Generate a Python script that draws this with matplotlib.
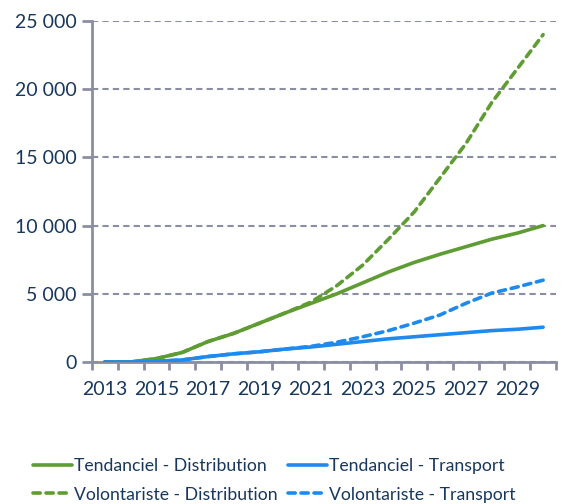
import numpy as np
import matplotlib.pyplot as plt
from matplotlib.ticker import FuncFormatter

years = list(range(2013, 2031))
tend_dist = [0, 0, 250, 700, 1500, 2100, 2850, 3600, 4300, 5000, 5800, 6600, 7300, 7900, 8450, 9000, 9450, 10000]
vol_dist = [0, 0, 250, 700, 1500, 2100, 2850, 3600, 4400, 5600, 7100, 9000, 11000, 13500, 16000, 19000, 21500, 24000]
tend_trans = [0, 0, 50, 150, 400, 600, 750, 950, 1100, 1300, 1500, 1700, 1850, 2000, 2150, 2300, 2400, 2550]
vol_trans = [0, 0, 50, 150, 400, 600, 750, 950, 1150, 1450, 1850, 2300, 2850, 3450, 4300, 5050, 5500, 6000]

green = '#5f9c33'
blue = '#1f8aee'
text_col = '#17375e'
grid_col = '#8b8ea3'

plt.rcParams['font.family'] = ['Lato', 'DejaVu Sans']

fig = plt.figure(figsize=(5.71, 5.04), dpi=100)
ax = fig.add_axes([92 / 571, 1 - 362 / 504, 464 / 571, 341 / 504])

x = np.arange(len(years))
lw = 2.6
ax.plot(x, vol_dist, color=green, lw=lw, dashes=(2.0, 1.6), dash_capstyle='round',
        label='Volontariste - Distribution', zorder=3)
ax.plot(x, vol_trans, color=blue, lw=lw, dashes=(2.0, 1.6), dash_capstyle='round',
        label='Volontariste - Transport', zorder=3)
ax.plot(x, tend_dist, color=green, lw=lw, solid_capstyle='round',
        label='Tendanciel - Distribution', zorder=4)
ax.plot(x, tend_trans, color=blue, lw=lw, solid_capstyle='round',
        label='Tendanciel - Transport', zorder=4)

ax.set_xlim(-0.5, len(years) - 0.5)
ax.set_ylim(0, 25000)
ax.set_yticks(np.arange(0, 25001, 5000))
ax.yaxis.set_major_formatter(FuncFormatter(lambda v, p: f'{int(v):,}'.replace(',', ' ')))

# category axis: ticks between categories, labels every other year
ax.set_xticks(np.arange(-0.5, len(years), 1))
ax.set_xticklabels([])
ax.set_xticks(x[::2], minor=True)
ax.set_xticklabels([str(y) for y in years[::2]], minor=True)
ax.tick_params(axis='x', which='major', length=6, width=2, color=grid_col, direction='out')
ax.tick_params(axis='x', which='minor', length=0, pad=14, labelsize=14, labelcolor=text_col)
ax.tick_params(axis='y', length=7, width=2, color=grid_col, direction='out',
               labelsize=14, labelcolor=text_col, pad=4)

ax.grid(axis='y', color=grid_col, lw=1.5, dashes=(3, 2))
for s in ['top', 'right']:
    ax.spines[s].set_visible(False)
for s in ['left', 'bottom']:
    ax.spines[s].set_color(grid_col)
    ax.spines[s].set_linewidth(2)
ax.set_axisbelow(True)

h, l = ax.get_legend_handles_labels()
order = [2, 0, 3, 1]
leg = fig.legend([h[i] for i in order], [l[i] for i in order], ncol=2, frameon=False,
                 loc='upper left', bbox_to_anchor=(24 / 571, 1 - 449 / 504),
                 fontsize=12.7, handlelength=2.2, handletextpad=0.12,
                 columnspacing=0.6, labelspacing=0.72, borderpad=0)
for t in leg.get_texts():
    t.set_color(text_col)

fig.savefig('out.png', dpi=100)
